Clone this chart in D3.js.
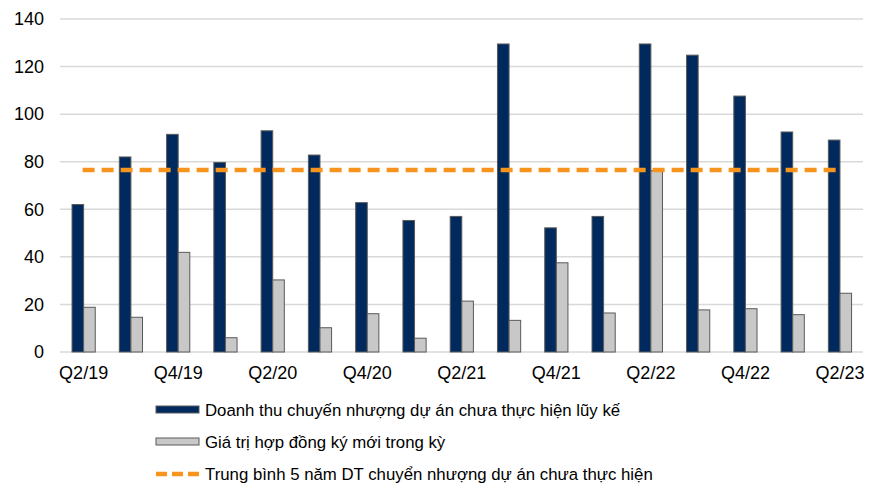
<!DOCTYPE html>
<html><head><meta charset="utf-8">
<script src="https://cdn.jsdelivr.net/npm/d3@7"></script>
<style>body{margin:0;background:#fff}svg{display:block;font-family:"Liberation Sans",Arial,sans-serif}</style>
</head><body><svg id="c" width="880" height="489"></svg>
<script>
const categories = ["Q2/19","Q3/19","Q4/19","Q1/20","Q2/20","Q3/20","Q4/20","Q1/21","Q2/21","Q3/21","Q4/21","Q1/22","Q2/22","Q3/22","Q4/22","Q1/23","Q2/23"];
const cumulativeRevenue = [62,82,91.5,79.7,93,82.8,62.8,55.3,57,129.5,52.2,57,129.5,124.8,107.6,92.5,89.1];
const newContracts = [18.8,14.6,41.9,6,30.3,10.2,16.1,5.8,21.4,13.3,37.5,16.4,76.2,17.7,18.2,15.7,24.7];
const average5y = 76.5;
const yTicks = [0,20,40,60,80,100,120,140];
const seriesNames = ["Doanh thu chuyến nhượng dự án chưa thực hiện lũy kế","Giá trị hợp đồng ký mới trong kỳ","Trung bình 5 năm DT chuyển nhượng dự án chưa thực hiện"];

const svg = d3.select("#c");
const x = d3.scaleBand().domain(categories).range([60, 863.6]).padding(0);
const y = d3.scaleLinear().domain([0,140]).range([352, 19]);
const bw = 11.6;

// gridlines
svg.append("g").selectAll("line").data(yTicks).join("line")
  .attr("x1",60).attr("x2",863).attr("y1",d=>y(d)).attr("y2",d=>y(d))
  .attr("stroke","#d9d9d9").attr("stroke-width",1.5);

// y labels
const yAxis = d3.axisLeft(y).tickValues(yTicks).tickSize(0).tickPadding(0);
const gy = svg.append("g").attr("transform","translate(44,0)").call(yAxis);
gy.select(".domain").remove();
gy.selectAll("text").attr("font-size",18).attr("fill","#000").attr("font-family","Liberation Sans, Arial, sans-serif");

// x labels
const xAxis = d3.axisBottom(x).tickValues(categories.filter((d,i)=>i%2===0)).tickSize(0).tickPadding(0);
const gx = svg.append("g").attr("transform","translate(0,366)").call(xAxis);
gx.select(".domain").remove();
gx.selectAll("text").attr("font-size",18).attr("fill","#000").attr("font-family","Liberation Sans, Arial, sans-serif");

const cx = d => x(d) + x.bandwidth()/2;

// bars
svg.append("g").selectAll("rect").data(categories).join("rect")
  .attr("x",(d)=>cx(d)-bw).attr("width",bw)
  .attr("y",(d,i)=>y(cumulativeRevenue[i])).attr("height",(d,i)=>y(0)-y(cumulativeRevenue[i]))
  .attr("fill","#002a5e").attr("stroke","#5a5a5a").attr("stroke-width",1);
svg.append("g").selectAll("rect").data(categories).join("rect")
  .attr("x",(d)=>cx(d)).attr("width",bw)
  .attr("y",(d,i)=>y(newContracts[i])).attr("height",(d,i)=>y(0)-y(newContracts[i]))
  .attr("fill","#c8c8c8").attr("stroke","#5a5a5a").attr("stroke-width",1);

// average line
svg.append("line")
  .attr("x1",cx(categories[0])-1).attr("x2",cx(categories[categories.length-1])+2)
  .attr("y1",y(average5y)).attr("y2",y(average5y))
  .attr("stroke","#f7941d").attr("stroke-width",4.5).attr("stroke-dasharray","12,7");

// legend
const lg = svg.append("g").attr("font-size",16.8).attr("fill","#000");
const rows = [410,442,474];
lg.append("rect").attr("x",156).attr("y",rows[0]-4).attr("width",43).attr("height",7).attr("fill","#002a5e").attr("stroke","#5a5a5a").attr("stroke-width",1);
lg.append("rect").attr("x",156).attr("y",rows[1]-4).attr("width",43).attr("height",7).attr("fill","#c8c8c8").attr("stroke","#5a5a5a").attr("stroke-width",1);
lg.append("line").attr("x1",156).attr("x2",199).attr("y1",rows[2]).attr("y2",rows[2])
  .attr("stroke","#f7941d").attr("stroke-width",4.5).attr("stroke-dasharray","11,5");
lg.selectAll("text").data(seriesNames).join("text")
  .attr("x",205).attr("y",(d,i)=>rows[i]).attr("dy","0.35em").text(d=>d);
</script></body></html>
